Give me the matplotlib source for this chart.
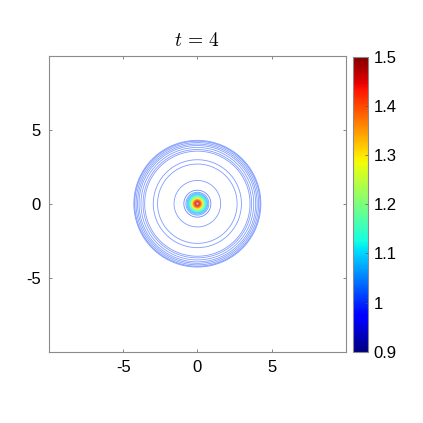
import numpy as np
import matplotlib
matplotlib.use("Agg")
import matplotlib.pyplot as plt
from matplotlib import cm, colors

plt.rcParams['font.family'] = ['Liberation Sans', 'DejaVu Sans']
plt.rcParams['mathtext.fontset'] = 'cm'
plt.rcParams['axes.unicode_minus'] = False

# ---- data ----
title_text = r"$t\,=\,4$"
x_ticks = [-5, 0, 5]
y_ticks = [-5, 0, 5]
cbar_ticks = [0.9, 1.0, 1.1, 1.2, 1.3, 1.4, 1.5]
cbar_labels = ["0.9", "1", "1.1", "1.2", "1.3", "1.4", "1.5"]
vmin, vmax = 0.9, 1.5
peak_value = 1.5          # value at the origin
base_value = 1.0          # background value
peak_width = 0.46         # gaussian width of the central pulse
peak_levels = np.arange(1.01, 1.50, 0.02)   # contour levels of the pulse
ring_radii = [1.57, 2.68, 2.97, 3.55, 3.66, 3.80, 3.93, 4.03, 4.13, 4.22, 4.28]
ring_values = [1.01, 1.01, 1.01, 1.01, 1.01, 1.01, 1.01, 1.01, 1.01, 1.01, 1.01]

# ---- grid ----
x = np.linspace(-10, 10, 801)
X, Y = np.meshgrid(x, x)
R = np.hypot(X, Y)
U = base_value + (peak_value - base_value) * np.exp(-(R / peak_width) ** 2)

fig = plt.figure(figsize=(4.23, 4.23), dpi=100)
ax = fig.add_axes([0.1158, 0.1686, 0.7015, 0.6997])
cax = fig.add_axes([0.8338, 0.1686, 0.0369, 0.6974])

norm = colors.Normalize(vmin=vmin, vmax=vmax)
cmap = plt.get_cmap('jet')

ax.contour(X, Y, U, levels=peak_levels, cmap=cmap, norm=norm, linewidths=0.6, alpha=0.6)
ring_cols = [cmap(norm(v)) for v in ring_values]
ax.contour(X, Y, R, levels=ring_radii, colors=ring_cols, linewidths=0.6, alpha=0.5)

ax.set_xlim(-10, 10)
ax.set_ylim(-10, 10)
ax.set_xticks(x_ticks)
ax.set_yticks(y_ticks)
ax.tick_params(direction='in', length=2.5, width=0.5, top=True, right=True,
               labelsize=12, color='#555555', pad=6)
for s in ax.spines.values():
    s.set_color('#8c8c8c')
    s.set_linewidth(0.8)
ax.set_title(title_text, fontsize=14, pad=7)

sm = cm.ScalarMappable(norm=norm, cmap=cmap)
cb = fig.colorbar(sm, cax=cax, ticks=cbar_ticks)
cb.ax.set_yticklabels(cbar_labels)
cb.ax.tick_params(direction='in', length=2, width=0.5, labelsize=12, color='#555555', pad=4)
cb.outline.set_edgecolor('#8c8c8c')
cb.outline.set_linewidth(0.8)

fig.savefig('out.png', dpi=100)
